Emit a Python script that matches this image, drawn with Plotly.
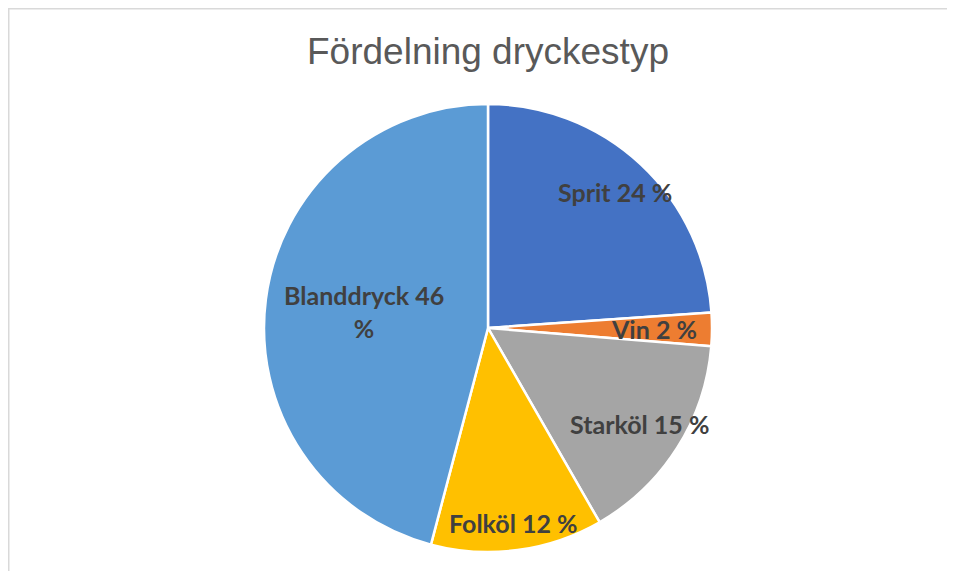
import math
import plotly.graph_objects as go

title = "Fördelning dryckestyp"
categories = ["Sprit", "Vin", "Starköl", "Folköl", "Blanddryck"]
values = [23.9, 2.4, 15.4, 12.4, 45.9]
label_texts = ["Sprit 24 %", "Vin 2 %", "Starköl 15 %", "Folköl 12 %", "Blanddryck 46<br>%"]
colors = ["#4472C4", "#ED7D31", "#A5A5A5", "#FFC000", "#5B9BD5"]
label_radius = [0.83, 0.74, 0.80, 0.88, 0.56]

# page body has an 8px margin; figure sized to fit the 955x579 window
OFF = 8
W, H = 955 - 2 * OFF, 579 - 2 * OFF
cx, cy, R = 488 - OFF, 328 - OFF, 224

dom_x = [(cx - R) / W, (cx + R) / W]
dom_y = [(H - cy - R) / H, (H - cy + R) / H]

fig = go.Figure(go.Pie(
    labels=categories,
    values=values,
    sort=False,
    direction="clockwise",
    rotation=0,
    marker=dict(colors=colors, line=dict(color="white", width=2.5)),
    textinfo="none",
    hoverinfo="label+value",
    showlegend=False,
    domain=dict(x=dom_x, y=dom_y),
))

total = sum(values)
annotations = []
cum = 0
for cat, v, txt, rf in zip(categories, values, label_texts, label_radius):
    mid = (cum + v / 2) / total * 2 * math.pi
    cum += v
    px = cx + rf * R * math.sin(mid)
    py = cy - rf * R * math.cos(mid)
    annotations.append(dict(
        x=px / W, y=(H - py) / H, xref="paper", yref="paper",
        text=txt, showarrow=False, xanchor="center", yanchor="middle",
        font=dict(family="Lato", size=25, color="#404040", weight="bold"),
    ))

fig.update_layout(
    width=W, height=H,
    margin=dict(l=0, r=0, t=0, b=0),
    paper_bgcolor="white",
    plot_bgcolor="white",
    title=dict(text=title, x=cx / W, xanchor="center", y=1 - (51 - OFF) / H, yanchor="middle",
               font=dict(family="Liberation Sans", size=37, color="#595959")),
    annotations=annotations,
    shapes=[
        dict(type="line", xref="paper", yref="paper", x0=0, x1=1,
             y0=1, y1=1, line=dict(color="#D9D9D9", width=3)),
        dict(type="line", xref="paper", yref="paper", x0=0, x1=0,
             y0=1, y1=0, line=dict(color="#D9D9D9", width=3)),
    ],
)

fig.write_html("out.html")
